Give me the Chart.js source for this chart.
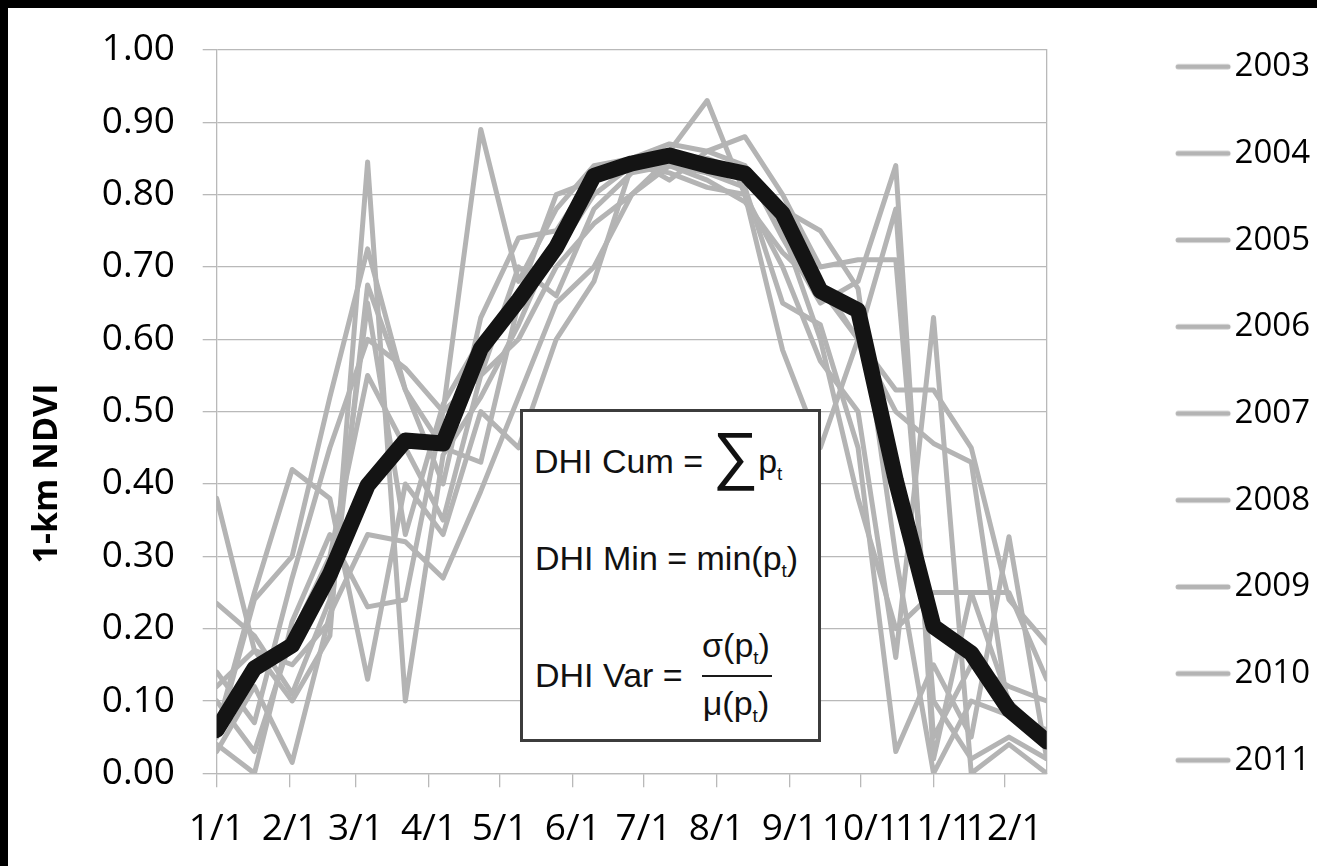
<!DOCTYPE html>
<html>
<head>
<meta charset="utf-8">
<title>1-km NDVI</title>
<script src="https://cdn.jsdelivr.net/npm/chart.js@4.4.1/dist/chart.umd.min.js"></script>
<style>
  html, body { margin: 0; padding: 0; background: #fff; overflow: hidden; }
  #wrap { position: relative; width: 1317px; height: 866px; overflow: hidden; background: #fff; }
  #myChart { position: absolute; left: 0; top: 0; }
  .frame-top { position: absolute; left: 0; top: 0; width: 1317px; height: 8px; background: #000; }
  .frame-left { position: absolute; left: 0; top: 0; width: 8px; height: 866px; background: #000; }
  .formula {
    position: absolute; left: 520px; top: 409px; width: 301px; height: 333px;
    box-sizing: border-box; border: 3px solid #3c3c3c; background: #fff;
    font-family: "Liberation Sans", Arial, sans-serif; font-size: 34px; color: #111;
  }
  .formula .row { position: absolute; line-height: 34px; white-space: nowrap; }
  .formula sub { font-size: 19px; line-height: 0; vertical-align: -7px; }
  .formula .sum { font-size: 64px; line-height: 0; vertical-align: -4px; }
  .formula .bar { position: absolute; height: 2px; background: #1a1a1a; }
</style>
</head>
<body>
<div id="wrap">
  <canvas id="myChart" width="1317" height="866"></canvas>
  <div class="formula">
    <div class="row" style="top:32px; left:11px;">DHI Cum = <span class="sum">∑</span>p<sub>t</sub></div>
    <div class="row" style="top:129px; left:12px;">DHI Min = min(p<sub>t</sub>)</div>
    <div class="row" style="top:246px; left:12px;">DHI Var =</div>
    <div class="row" style="top:216px; left:175px; width:76px; text-align:center;">σ(p<sub>t</sub>)</div>
    <div class="bar" style="top:263px; left:179px; width:70px;"></div>
    <div class="row" style="top:274px; left:175px; width:76px; text-align:center;">μ(p<sub>t</sub>)</div>
  </div>
  <div class="frame-top"></div>
  <div class="frame-left"></div>
</div>
<script>
// 16-day composite start days (day of year) and month start days for the axis
const compositeDays = [1, 17, 33, 49, 65, 81, 97, 113, 129, 145, 161, 177, 193, 209, 225, 241, 257, 273, 289, 305, 321, 337, 353];
const monthStartDays = [1, 32, 60, 91, 121, 152, 182, 213, 244, 274, 305, 335];
const monthLabels = ["1/1", "2/1", "3/1", "4/1", "5/1", "6/1", "7/1", "8/1", "9/1", "10/1", "11/1", "12/1"];

const years = ["2003", "2004", "2005", "2006", "2007", "2008", "2009", "2010", "2011"];

// NDVI per composite, one array per year
const ndvi2003 = [0.38, 0.17, 0.10, 0.19, 0.845, 0.10, 0.44, 0.52, 0.62, 0.74, 0.82, 0.85, 0.87, 0.86, 0.84, 0.76, 0.68, 0.60, 0.53, 0.53, 0.45, 0.24, 0.18];
const ndvi2004 = [0.14, 0.07, 0.27, 0.45, 0.60, 0.56, 0.50, 0.89, 0.68, 0.78, 0.84, 0.85, 0.82, 0.86, 0.88, 0.80, 0.70, 0.71, 0.71, 0.10, 0.02, 0.05, 0.02];
const ndvi2005 = [0.05, 0.24, 0.30, 0.52, 0.725, 0.53, 0.45, 0.43, 0.65, 0.72, 0.80, 0.84, 0.86, 0.93, 0.80, 0.70, 0.57, 0.50, 0.16, 0.63, 0.00, 0.04, 0.00];
const ndvi2006 = [0.235, 0.19, 0.11, 0.24, 0.65, 0.33, 0.51, 0.60, 0.66, 0.80, 0.82, 0.84, 0.85, 0.83, 0.84, 0.74, 0.65, 0.68, 0.84, 0.02, 0.25, 0.25, 0.13];
const ndvi2007 = [0.10, 0.03, 0.19, 0.30, 0.55, 0.45, 0.35, 0.55, 0.70, 0.66, 0.78, 0.83, 0.84, 0.82, 0.79, 0.72, 0.67, 0.60, 0.50, 0.456, 0.43, 0.08, 0.06];
const ndvi2008 = [0.03, 0.12, 0.015, 0.22, 0.33, 0.32, 0.27, 0.39, 0.52, 0.65, 0.70, 0.80, 0.85, 0.84, 0.82, 0.78, 0.75, 0.67, 0.30, 0.00, 0.10, 0.08, 0.04];
const ndvi2009 = [0.12, 0.17, 0.15, 0.21, 0.675, 0.53, 0.40, 0.63, 0.74, 0.75, 0.83, 0.84, 0.83, 0.81, 0.80, 0.585, 0.45, 0.60, 0.78, 0.05, 0.15, 0.12, 0.10];
const ndvi2010 = [0.04, 0.00, 0.21, 0.33, 0.23, 0.24, 0.50, 0.55, 0.60, 0.70, 0.76, 0.80, 0.84, 0.83, 0.81, 0.65, 0.62, 0.45, 0.03, 0.15, 0.05, 0.327, 0.02];
const ndvi2011 = [0.06, 0.25, 0.42, 0.38, 0.13, 0.40, 0.33, 0.50, 0.45, 0.60, 0.68, 0.84, 0.84, 0.85, 0.83, 0.75, 0.60, 0.38, 0.20, 0.25, 0.25, 0.10, 0.05];

// multi-year mean curve (thick black line)
const ndviMean = [0.060, 0.145, 0.177, 0.275, 0.398, 0.460, 0.456, 0.587, 0.654, 0.727, 0.826, 0.843, 0.854, 0.840, 0.829, 0.774, 0.667, 0.640, 0.405, 0.203, 0.166, 0.088, 0.044];

const yearSeries = [ndvi2003, ndvi2004, ndvi2005, ndvi2006, ndvi2007, ndvi2008, ndvi2009, ndvi2010, ndvi2011];

const GRAY = "#b4b4b4";
const GRID = "#b9b9b9";
const CANVAS_W = 1317;
const PLOT_LEFT = 216.7;
const PLOT_TOP = 49;
const PLOT_RIGHT = 1046.7;
const PLOT_BOTTOM = 773.3;
const PAD_TOP = -3.5;
const PAD_RIGHT = -3;

const toPoints = (values) => values.map((v, i) => ({ x: compositeDays[i], y: v }));

// legend marker: short gray line sitting left of the label text
const legendLine = document.createElement("canvas");
legendLine.width = 120;
legendLine.height = 8;
(function () {
  const c = legendLine.getContext("2d");
  c.strokeStyle = GRAY;
  c.lineWidth = 5;
  c.lineCap = "round";
  c.beginPath();
  c.moveTo(21, 4);
  c.lineTo(71, 4);
  c.stroke();
})();

// rotated y axis title
const yTitlePlugin = {
  id: "yTitle",
  afterDraw(chart) {
    const c = chart.ctx;
    c.save();
    c.translate(47.5, 473.5);
    c.rotate(-Math.PI / 2);
    c.font = 'bold 34px "Open Sans"';
    c.fillStyle = "#000";
    c.textAlign = "center";
    c.textBaseline = "middle";
    c.fillText("1-km NDVI", 0, 0);
    c.restore();
  },
};

const datasets = [
  {
    label: "Mean",
    data: toPoints(ndviMean),
    borderColor: "#141414",
    borderWidth: 16,
    order: 0,
  },
].concat(
  yearSeries.map((values, i) => ({
    label: years[i],
    data: toPoints(values),
    borderColor: GRAY,
    borderWidth: 5,
    order: 1,
  }))
);

datasets.forEach((ds) => {
  ds.pointRadius = 0;
  ds.tension = 0;
  ds.fill = false;
  ds.clip = 0;
  ds.borderJoinStyle = "round";
  ds.borderCapStyle = "round";
  ds.xAxisID = "x";
  ds.yAxisID = "y";
});

const ctx = document.getElementById("myChart").getContext("2d");
const myChart = new Chart(ctx, {
  type: "line",
  data: { datasets: datasets },
  plugins: [yTitlePlugin],
  options: {
    responsive: false,
    animation: false,
    devicePixelRatio: 1,
    layout: { padding: { top: PAD_TOP, right: PAD_RIGHT, bottom: 0, left: 0 } },
    scales: {
      x: {
        type: "linear",
        min: 1,
        max: 353,
        afterBuildTicks: (scale) => {
          scale.ticks = monthStartDays.map((d) => ({ value: d }));
        },
        afterFit: (scale) => {
          scale.height = 866 - PLOT_BOTTOM;
        },
        ticks: {
          autoSkip: false,
          maxRotation: 0,
          minRotation: 0,
          padding: 20,
          color: "#000",
          font: { family: "Open Sans", size: 37 },
          callback: (value) => monthLabels[monthStartDays.indexOf(value)],
        },
        grid: { drawOnChartArea: false, drawTicks: true, tickLength: 14, color: GRID, lineWidth: 1.3 },
        border: { color: GRID, width: 1.3 },
      },
      y: {
        min: 0,
        max: 1,
        afterFit: (scale) => {
          scale.width = PLOT_LEFT;
        },
        ticks: {
          stepSize: 0.1,
          padding: 27.7,
          color: "#000",
          font: { family: "Open Sans", size: 37 },
          callback: (value) => value.toFixed(2),
        },
        grid: { color: GRID, lineWidth: 1.3, tickLength: 14 },
        border: { color: GRID, width: 1.3 },
      },
      xTop: {
        type: "linear",
        position: "top",
        grid: { display: false },
        ticks: { display: false },
        border: { display: false },
        afterFit: (scale) => {
          scale.height = PLOT_TOP - PAD_TOP;
        },
      },
      y2: {
        type: "linear",
        position: "right",
        min: 0,
        max: 1,
        grid: { display: false },
        ticks: { display: false },
        border: { color: GRID, width: 1.3 },
        afterFit: (scale) => {
          const legendWidth = scale.chart.legend ? scale.chart.legend.width : 0;
          scale.width = CANVAS_W - PAD_RIGHT - PLOT_RIGHT - legendWidth;
        },
      },
    },
    plugins: {
      tooltip: { enabled: false },
      legend: {
        position: "right",
        align: "start",
        labels: {
          filter: (item) => item.text !== "Mean",
          usePointStyle: true,
          pointStyle: legendLine,
          pointStyleWidth: 2,
          padding: 53.7,
          color: "#000",
          font: { family: "Open Sans", size: 33 },
        },
      },
    },
  },
});
</script>
</body>
</html>
